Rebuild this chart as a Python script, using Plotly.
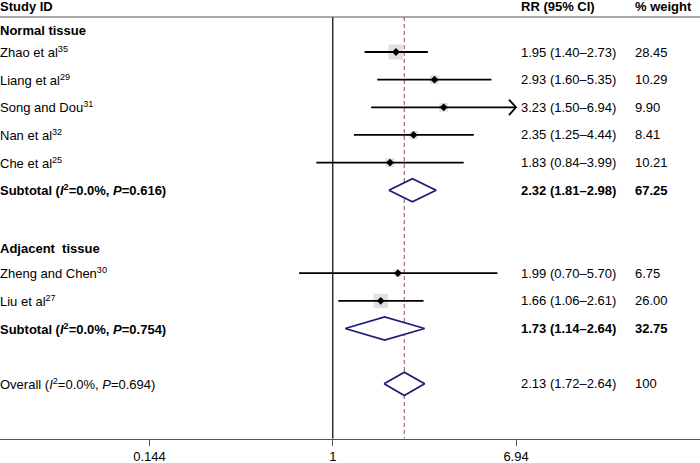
import numpy as np
import plotly.graph_objects as go

# study rows
studies = ["Zhao et al<sup>35</sup>", "Liang et al<sup>29</sup>", "Song and Dou<sup>31</sup>",
           "Nan et al<sup>32</sup>", "Che et al<sup>25</sup>",
           "Zheng and Chen<sup>30</sup>", "Liu et al<sup>27</sup>"]
study_rows = [2, 3, 4, 5, 6, 10, 11]
rr = [1.95, 2.93, 3.23, 2.35, 1.83, 1.99, 1.66]
lo = [1.40, 1.60, 1.50, 1.25, 0.84, 0.70, 1.06]
hi = [2.73, 5.35, 6.94, 4.44, 3.99, 5.70, 2.61]
weight = [28.45, 10.29, 9.90, 8.41, 10.21, 6.75, 26.00]

# pooled rows
pooled_labels = ["<b>Subtotal (<i>I</i><sup>2</sup>=0.0%, <i>P</i>=0.616)</b>",
                 "<b>Subtotal (<i>I</i><sup>2</sup>=0.0%, <i>P</i>=0.754)</b>",
                 "Overall (<i>I</i><sup>2</sup>=0.0%, <i>P</i>=0.694)"]
pooled_rows = [7, 12, 14]
pooled_rr = [2.32, 1.73, 2.13]
pooled_lo = [1.81, 1.14, 1.72]
pooled_hi = [2.98, 2.64, 2.64]
pooled_w = ["67.25", "32.75", "100"]
pooled_bold = [True, True, False]

groups = ["<b>Normal tissue</b>", "<b>Adjacent  tissue</b>"]
group_rows = [1.24, 9.12]

tick_vals = [0.144, 1, 6.94]
tick_text = ["0.144", "1", "6.94"]
x_max = 6.94

FONT = "Liberation Sans, Arial, sans-serif"
NAVY = "#1c1c78"
HEAD_ROW = 0.37
TOP_ROW = 0.734
AXIS_ROW = 15.985

fig = go.Figure()

# dashed line at overall estimate
fig.add_shape(type="line", x0=pooled_rr[-1], x1=pooled_rr[-1], y0=TOP_ROW, y1=AXIS_ROW,
              line=dict(color="#b07090", width=1.3, dash="4px,3px"), layer="below")
# null line
fig.add_shape(type="line", x0=1, x1=1, y0=TOP_ROW, y1=AXIS_ROW, line=dict(color="black", width=1.2))
# top rule
fig.add_shape(type="line", xref="paper", x0=0, x1=1, y0=TOP_ROW, y1=TOP_ROW,
              line=dict(color="#555555", width=1.2))

# weight squares
fig.add_trace(go.Scatter(x=rr, y=study_rows, mode="markers",
                         marker=dict(symbol="square", color="#d3d3d3",
                                     size=[2.8 * np.sqrt(w) for w in weight], line=dict(width=0)),
                         hoverinfo="skip", showlegend=False))

# confidence intervals
for r, a, b in zip(study_rows, lo, hi):
    fig.add_trace(go.Scatter(x=[a, min(b, x_max)], y=[r, r], mode="lines",
                             line=dict(color="black", width=1.8), showlegend=False, hoverinfo="skip"))
    if b >= x_max:
        # clipped CI: open arrowhead
        fig.add_trace(go.Scatter(x=[x_max * np.exp(-0.075), x_max, x_max * np.exp(-0.075)],
                                 y=[r - 0.28, r, r + 0.28], mode="lines",
                                 line=dict(color="black", width=1.8), showlegend=False, hoverinfo="skip"))

# point estimates
fig.add_trace(go.Scatter(x=rr, y=study_rows, mode="markers",
                         marker=dict(symbol="diamond", color="black", size=6),
                         hoverinfo="skip", showlegend=False))

# pooled diamonds
for r, e, a, b in zip(pooled_rows, pooled_rr, pooled_lo, pooled_hi):
    fig.add_trace(go.Scatter(x=[a, e, b, e, a], y=[r, r - 0.42, r, r + 0.42, r], mode="lines",
                             line=dict(color=NAVY, width=1.8), fill="toself", fillcolor="white",
                             showlegend=False, hoverinfo="skip"))

# text columns
def txt(x, y, s, bold=False):
    fig.add_annotation(x=x, y=y, xref="paper", yref="y", text=f"<b>{s}</b>" if bold else s,
                       showarrow=False, xanchor="left", yanchor="middle", borderpad=0, borderwidth=0,
                       font=dict(family=FONT, size=13, color="black"))

txt(0, HEAD_ROW, "Study ID", True)
txt(521 / 700, HEAD_ROW, "RR (95% CI)", True)
txt(635 / 700, HEAD_ROW, "% weight", True)
for g, r in zip(groups, group_rows):
    txt(0, r, g)
for s, r, e, a, b, w in zip(studies, study_rows, rr, lo, hi, weight):
    txt(0, r, s)
    txt(521 / 700, r, f"{e:.2f} ({a:.2f}–{b:.2f})")
    txt(635 / 700, r, f"{w:.2f}")
for s, r, e, a, b, w, bd in zip(pooled_labels, pooled_rows, pooled_rr, pooled_lo, pooled_hi,
                                pooled_w, pooled_bold):
    txt(0, r, s)
    txt(521 / 700, r, f"{e:.2f} ({a:.2f}–{b:.2f})", bd)
    txt(635 / 700, r, w, bd)

fig.update_layout(
    width=700, height=463, margin=dict(l=0, r=0, t=0, b=0),
    plot_bgcolor="white", paper_bgcolor="white",
    font=dict(family=FONT, size=13, color="black"),
    xaxis=dict(type="log", range=[-1.528, 1.686], tickvals=tick_vals, ticktext=tick_text,
               showgrid=False, zeroline=False, showline=True, linecolor="#555555", linewidth=1.2,
               ticks="outside", ticklen=6, tickcolor="#555555", tickfont=dict(size=13)),
    yaxis=dict(range=[AXIS_ROW, 0.1193], domain=[24.3 / 463, 1], visible=False, showgrid=False),
)

fig.write_html("out.html", config={"displayModeBar": False},
               post_script="document.body.style.margin='0px';")
